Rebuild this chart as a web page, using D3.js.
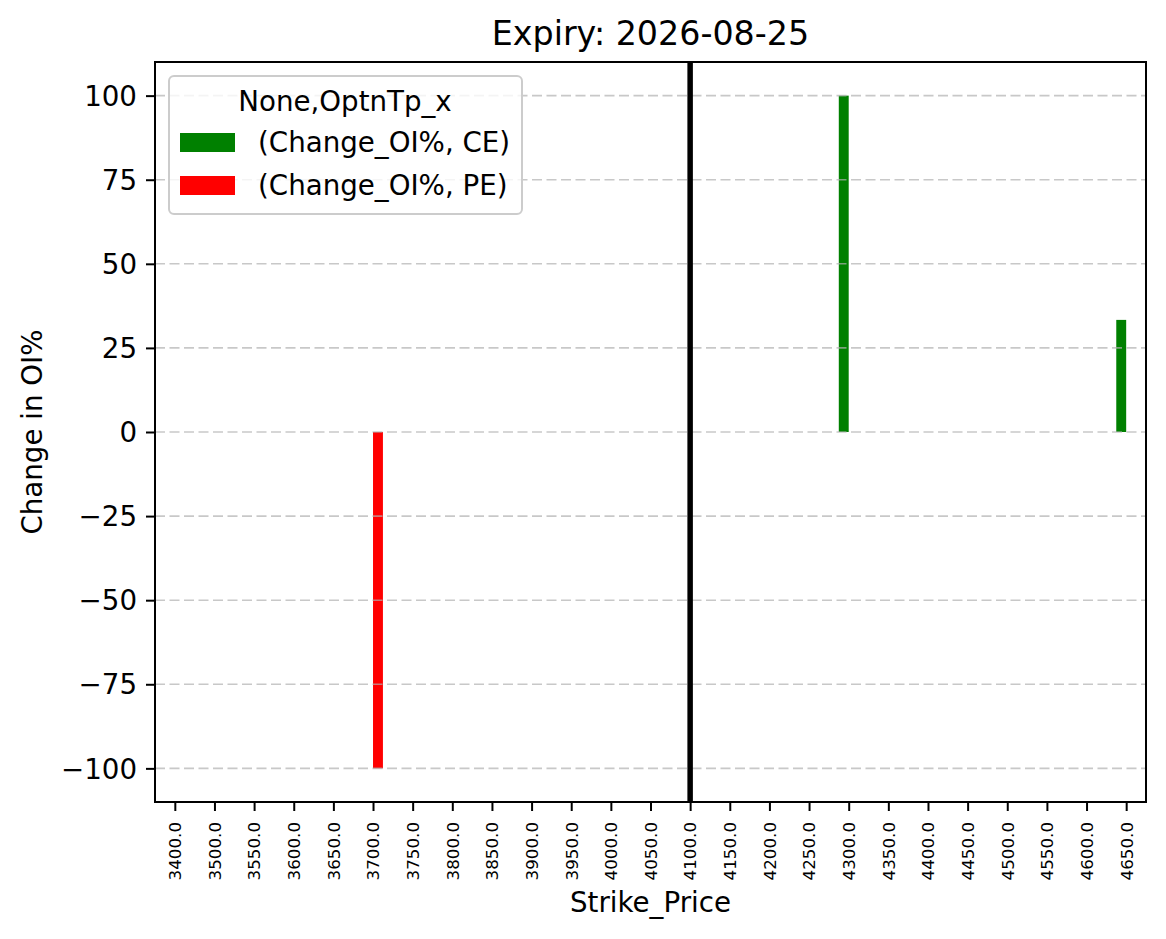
<!DOCTYPE html>
<html>
<head>
<meta charset="utf-8">
<script src="https://cdn.jsdelivr.net/npm/d3@7"></script>
<style>
  body { margin: 0; background: #fff; }
  text { font-family: "DejaVu Sans", sans-serif; fill: #000; }
</style>
</head>
<body>
<svg id="chart" width="1166" height="939"></svg>
<script>
// Data
var strikes = [3400, 3500, 3550, 3600, 3650, 3700, 3750, 3800, 3850, 3900, 3950, 4000, 4050,
               4100, 4150, 4200, 4250, 4300, 4350, 4400, 4450, 4500, 4550, 4600, 4650];
var ceChange = [0, 0, 0, 0, 0, 0, 0, 0, 0, 0, 0, 0, 0, 0, 0, 0, 0, 100, 0, 0, 0, 0, 0, 0, 33.33];
var peChange = [0, 0, 0, 0, 0, -100, 0, 0, 0, 0, 0, 0, 0, 0, 0, 0, 0, 0, 0, 0, 0, 0, 0, 0, 0];
var seriesNames = ["(Change_OI%, CE)", "(Change_OI%, PE)"];
var seriesColors = ["green", "red"];
var yTicks = [-100, -75, -50, -25, 0, 25, 50, 75, 100];
var spotStrike = 4100;

// Layout (plot area in pixels)
var pLeft = 155, pRight = 1146, pTop = 62, pBottom = 802;
var svg = d3.select("#chart");

var x = d3.scaleLinear().domain([-0.5, strikes.length - 0.5]).range([pLeft, pRight]);
var y = d3.scaleLinear().domain([-110, 110]).range([pBottom, pTop]);
var barW = 0.25;

// Bars (pandas style grouped bars: first series left of tick, second right)
var series = [ceChange, peChange];
series.forEach(function (vals, s) {
    svg.append("g").selectAll("rect")
        .data(vals.map(function (v, i) { return { i: i, v: v }; }).filter(function (d) { return d.v !== 0; }))
        .enter().append("rect")
        .attr("x", function (d) { return x(d.i - 0.25 + s * barW); })
        .attr("width", x(barW) - x(0))
        .attr("y", function (d) { return y(Math.max(0, d.v)); })
        .attr("height", function (d) { return Math.abs(y(d.v) - y(0)); })
        .attr("fill", seriesColors[s]);
});

// Horizontal dashed grid, drawn above the bars
svg.append("g").selectAll("line")
    .data(yTicks).enter().append("line")
    .attr("x1", pLeft).attr("x2", pRight)
    .attr("y1", function (d) { return y(d); }).attr("y2", function (d) { return y(d); })
    .attr("stroke", "#b0b0b0").attr("stroke-opacity", 0.7)
    .attr("stroke-width", 1.6).attr("stroke-dasharray", "10,4.5");

// Vertical line at the spot strike
var spotIdx = strikes.indexOf(spotStrike);
svg.append("line")
    .attr("x1", x(spotIdx)).attr("x2", x(spotIdx))
    .attr("y1", pTop).attr("y2", pBottom)
    .attr("stroke", "#000").attr("stroke-width", 5.5);

// Axes
var yAxis = d3.axisLeft(y).tickValues(yTicks).tickSize(9).tickPadding(9)
    .tickFormat(d3.format("d"));
var gy = svg.append("g").attr("transform", "translate(" + pLeft + ",0)").call(yAxis);
gy.select(".domain").remove();
gy.selectAll(".tick line").attr("stroke-width", 2);
gy.selectAll(".tick text").style("font-size", "27.7px").attr("dy", "0.35em");

var xAxis = d3.axisBottom(x).tickValues(d3.range(strikes.length)).tickSize(9)
    .tickFormat(function (i) { return strikes[i].toFixed(1); });
var gx = svg.append("g").attr("transform", "translate(0," + pBottom + ")").call(xAxis);
gx.select(".domain").remove();
gx.selectAll(".tick line").attr("stroke-width", 2);
gx.selectAll(".tick text")
    .style("font-size", "16.7px")
    .attr("text-anchor", "end")
    .attr("transform", "translate(0,20) rotate(-90)")
    .attr("x", 0).attr("y", 0).attr("dy", "0.35em");

// Frame
svg.append("rect")
    .attr("x", pLeft).attr("y", pTop)
    .attr("width", pRight - pLeft).attr("height", pBottom - pTop)
    .attr("fill", "none").attr("stroke", "#000").attr("stroke-width", 2);

// Titles
svg.append("text").attr("x", (pLeft + pRight) / 2).attr("y", 45)
    .attr("text-anchor", "middle").style("font-size", "33.3px")
    .text("Expiry: 2026-08-25");
svg.append("text").attr("x", (pLeft + pRight) / 2).attr("y", 912)
    .attr("text-anchor", "middle").style("font-size", "27.7px")
    .text("Strike_Price");
svg.append("text").attr("transform", "translate(42," + y(0) + ") rotate(-90)")
    .attr("text-anchor", "middle").style("font-size", "27.7px")
    .text("Change in OI%");

// Legend
var lg = svg.append("g");
lg.append("rect")
    .attr("x", 169).attr("y", 76).attr("width", 353).attr("height", 138)
    .attr("rx", 5).attr("fill", "#fff").attr("fill-opacity", 0.8)
    .attr("stroke", "#cccccc").attr("stroke-width", 2);
lg.append("text").attr("x", 345).attr("y", 111)
    .attr("text-anchor", "middle").style("font-size", "27.7px")
    .text("None,OptnTp_x");
seriesNames.forEach(function (name, s) {
    lg.append("rect").attr("x", 180).attr("y", 133 + s * 43)
        .attr("width", 55).attr("height", 19).attr("fill", seriesColors[s]);
    lg.append("text").attr("x", 258).attr("y", 152 + s * 43)
        .style("font-size", "27.7px").text(name);
});
</script>
</body>
</html>
